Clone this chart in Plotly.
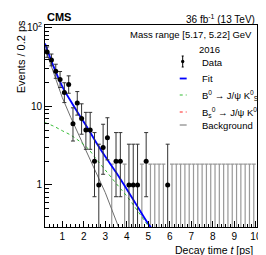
import math
import plotly.graph_objects as go

# ---------------- data ----------------
bin_width = 0.2
bin_centers = [round(0.3 + 0.2 * i, 1) for i in range(49)]
counts = [49, 39, 28, 22, 15, 19, 6, 11, 7, 5,
          5, 2, 1, 3, 4, 0, 2, 2, 0, 1,
          1, 1, 0, 2, 0, 0, 0, 0, 1, 0,
          0, 0, 0, 0, 0, 0, 0, 0, 0, 0,
          0, 0, 0, 0, 0, 0, 0, 0, 0]

curve_t = [0.2, 0.6, 1.0, 1.4, 1.8, 2.2, 2.6, 3.0, 3.5, 4.0, 4.5, 5.0, 5.5]
fit_total = [63, 32, 18, 11.6, 7.7, 5.2, 3.4, 2.3, 1.45, 0.88, 0.53, 0.32, 0.21]
b0_signal = [6.2, 5.6, 4.9, 4.3, 3.6, 2.9, 2.1, 1.55, 1.05, 0.72, 0.47, 0.30, 0.20]
bkg_t = [0.2, 0.6, 1.0, 1.4, 1.8, 2.2, 2.6, 3.0, 3.6, 4.0]
background = [55, 26, 13, 7.2, 4.2, 2.4, 1.4, 0.8, 0.3, 0.17]

x_ticks = [1, 2, 3, 4, 5, 6, 7, 8, 9, 10]
y_ticks = [1, 10, 100]
y_ticktext = ["1", "10", "10<sup>2</sup>"]

# --------------- Poisson (Garwood) intervals ---------------
def pcdf(n, mu):
    s, term = 0.0, math.exp(-mu)
    for k in range(n + 1):
        if k > 0:
            term *= mu / k
        s += term
    return s

def garwood(n, a=0.158655):
    lo_b, hi_b = 0.0, 200.0
    for _ in range(100):
        m = 0.5 * (lo_b + hi_b)
        if pcdf(n, m) > a:
            lo_b = m
        else:
            hi_b = m
    up = 0.5 * (lo_b + hi_b)
    if n == 0:
        return 0.0, up
    lo_b, hi_b = 0.0, 200.0
    for _ in range(100):
        m = 0.5 * (lo_b + hi_b)
        if 1 - pcdf(n - 1, m) < a:
            lo_b = m
        else:
            hi_b = m
    return 0.5 * (lo_b + hi_b), up

nz_x, nz_y, e_up, e_lo = [], [], [], []
z_x, z_y, z_up = [], [], []
for c, n in zip(bin_centers, counts):
    lo, up = garwood(n)
    if n > 0:
        nz_x.append(c); nz_y.append(n)
        e_up.append(up - n); e_lo.append(n - lo)
    else:
        z_x.append(c); z_y.append(up); z_up.append(up - 1e-3)

fig = go.Figure()

# empty bins: error bar only
fig.add_trace(go.Scatter(
    x=z_x, y=z_y, mode="markers", marker=dict(size=1, opacity=0),
    error_y=dict(type="data", symmetric=False, array=[0] * len(z_x),
                 arrayminus=z_up, width=2, thickness=1.2, color="#999999"),
    showlegend=False, hoverinfo="skip"))

fig.add_trace(go.Scatter(
    x=bkg_t, y=background, mode="lines",
    line=dict(color="#6e6e6e", width=1), showlegend=False))
fig.add_trace(go.Scatter(
    x=curve_t, y=b0_signal, mode="lines", line_shape="spline",
    line=dict(color="#33bb33", width=1, dash="dot"), showlegend=False))
fig.add_trace(go.Scatter(
    x=curve_t, y=fit_total, mode="lines", line_shape="spline",
    line=dict(color="#0000ff", width=1.8), showlegend=False))

fig.add_trace(go.Scatter(
    x=nz_x, y=nz_y, mode="markers",
    marker=dict(color="black", size=5),
    error_y=dict(type="data", symmetric=False, array=e_up, arrayminus=e_lo,
                 width=2, thickness=1, color="#333"),
    showlegend=False))

L, R, T, B = 37, 251, 17, 219
W, H = 266, 255

def px(x):
    return (x - L) / (R - L)

def py(y):
    return (B - y) / (B - T)

font = "Liberation Sans, Arial, sans-serif"
ann = []
def text(x, y, s, size=10, xanchor="left"):
    ann.append(dict(x=px(x), y=py(y), xref="paper", yref="paper", text=s,
                    showarrow=False, xanchor=xanchor, yanchor="middle",
                    font=dict(family=font, size=size, color="black")))

text(37, 9, "<b>CMS</b>", size=11)
text(251, 11, "36 fb<sup>-1</sup> (13 TeV)", size=10, xanchor="right")
text(248, 26, "Mass range [5.17, 5.22] GeV", size=9.5, xanchor="right")
text(203, 41, "2016", size=9.5, xanchor="center")
text(193, 54, "Data", size=9.5)
text(193, 70, "Fit", size=9.5)
text(193, 87, "B<sup>0</sup> \u2192 J/\u03c8 K<sup>0</sup><sub>S</sub>", size=9.5)
text(193, 104, "B<sub>s</sub><sup>0</sup> \u2192 J/\u03c8 K<sup>0</sup><sub>S</sub>", size=9.5)
text(193, 117, "Background", size=9.5)
text(249, 242, "Decay time <i>t</i> [ps]", size=10.5, xanchor="right")
ann.append(dict(x=(13 - L) / (R - L), y=(B - 49) / (B - T),
                xref="paper", yref="paper", xanchor="center", yanchor="middle",
                text="Events / 0.2 ps", showarrow=False, textangle=-90,
                font=dict(family=font, size=11, color="black")))

shapes = []
def seg(x0, y0, x1, y1, color, width=1, dash="solid"):
    shapes.append(dict(type="line", xref="paper", yref="paper",
                       x0=px(x0), y0=py(y0), x1=px(x1), y1=py(y1),
                       line=dict(color=color, width=width, dash=dash)))

# legend symbols
seg(176, 48, 176, 59, "black")
seg(175, 48, 177, 48, "black")
seg(175, 59, 177, 59, "black")
shapes.append(dict(type="circle", xref="paper", yref="paper",
                   x0=px(174.3), x1=px(177.7), y0=py(51.8), y1=py(55.2),
                   fillcolor="black", line=dict(color="black", width=0)))
seg(173, 70.5, 180, 70.5, "#0000ff", 1.8)
seg(173, 87, 180, 87, "#33bb33", 1, "dot")
seg(173, 104, 180, 104, "#ff2222", 1, "dot")
seg(173, 117, 180, 117, "#6e6e6e", 1)

fig.update_layout(
    width=W, height=H,
    margin=dict(l=L, r=W - R, t=T, b=H - B),
    paper_bgcolor="white", plot_bgcolor="white",
    annotations=ann, shapes=shapes,
    font=dict(family=font, size=10, color="black"),
    xaxis=dict(range=[0.2, 10.05], tickvals=x_ticks, ticks="inside", ticklen=6,
               tickcolor="black", showgrid=False, zeroline=False,
               showline=True, linecolor="black", linewidth=1, mirror=True,
               tickfont=dict(size=10, family=font),
               minor=dict(ticks="inside", ticklen=3, dtick=0.2, tick0=0,
                          tickcolor="black", showgrid=False)),
    yaxis=dict(type="log", range=[-0.535, 2.035], tickvals=y_ticks,
               ticktext=y_ticktext, ticks="inside", ticklen=7,
               tickcolor="black", showgrid=False, zeroline=False,
               showline=True, linecolor="black", linewidth=1, mirror=True,
               tickfont=dict(size=10, family=font),
               minor=dict(ticks="inside", ticklen=4, tickcolor="black",
                          tickmode="array",
                          tickvals=[0.3, 0.4, 0.5, 0.6, 0.7, 0.8, 0.9,
                                    2, 3, 4, 5, 6, 7, 8, 9,
                                    20, 30, 40, 50, 60, 70, 80, 90],
                          showgrid=False)),
)

fig.write_html("out.html")
